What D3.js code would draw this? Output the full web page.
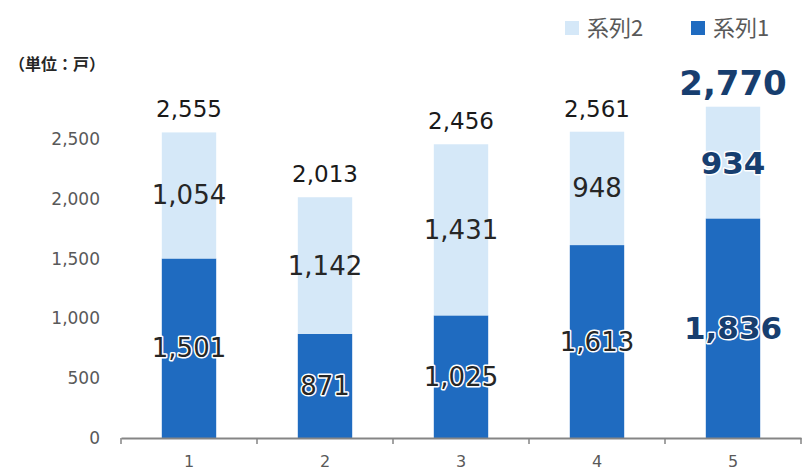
<!DOCTYPE html>
<html>
<head>
<meta charset="utf-8">
<script src="https://cdn.jsdelivr.net/npm/d3@7"></script>
<style>
  html, body { margin: 0; padding: 0; background: #ffffff; }
  svg { display: block; }
</style>
</head>
<body>
<svg id="chart" width="804" height="475"></svg>
<script>
// Categories along the x axis
const categories = ["1", "2", "3", "4", "5"];
// Lower (dark) segment values
const series1 = [1501, 871, 1025, 1613, 1836];
// Upper (light) segment values
const series2 = [1054, 1142, 1431, 948, 934];
// Totals shown above each bar
const totals = [2555, 2013, 2456, 2561, 2770];
// Y axis ticks
const yTicks = [0, 500, 1000, 1500, 2000, 2500];
const seriesNames = ["系列1", "系列2"];
const unitLabel = "（単位：戸）";

const DARK = "#1f6bc0";
const LIGHT = "#d5e8f8";
const NAVY = "#173e6f";
const numFont = "'DejaVu Sans', Verdana, sans-serif";
const cjkFont = "'Noto Sans CJK JP', 'DejaVu Sans', sans-serif";
const fmt = d3.format(",");

const svg = d3.select("#chart");

const x = d3.scaleBand()
  .domain(categories)
  .range([121, 801])
  .paddingInner(0.6)
  .paddingOuter(0.3);

const y = d3.scaleLinear()
  .domain([0, 2500])
  .range([438, 139]);

// stacked layout
const rows = categories.map((c, i) => ({ cat: c, s1: series1[i], s2: series2[i], total: totals[i] }));
const stack = d3.stack().keys(["s1", "s2"]);
const layers = stack(rows);
const colors = { s1: DARK, s2: LIGHT };

// y tick labels (no axis line)
const yAxis = d3.axisLeft(y).tickValues(yTicks).tickFormat(fmt).tickSize(0).tickPadding(0);
const gy = svg.append("g").attr("transform", "translate(100,0)").call(yAxis);
gy.select(".domain").remove();
gy.selectAll("text")
  .attr("fill", "#595959")
  .style("font-family", numFont)
  .style("font-size", "17px");

// bars
layers.forEach(layer => {
  svg.append("g")
    .selectAll("rect")
    .data(layer)
    .join("rect")
    .attr("x", d => x(d.data.cat))
    .attr("width", x.bandwidth())
    .attr("y", d => y(d[1]))
    .attr("height", d => y(d[0]) - y(d[1]))
    .attr("fill", colors[layer.key]);
});

// x axis
const xAxis = d3.axisBottom(x).tickSize(0).tickPadding(18);
const gx = svg.append("g").attr("transform", `translate(0,${y(0)})`).call(xAxis);
gx.select(".domain").attr("stroke", "#858585").attr("stroke-width", 2);
gx.selectAll("text")
  .attr("fill", "#595959")
  .style("font-family", numFont)
  .style("font-size", "16px");
// boundary tick marks between categories
const bounds = categories.map((c, i) => x.range()[0] + i * x.step());
bounds.push(x.range()[1]);
gx.selectAll("line.bound")
  .data(bounds)
  .join("line")
  .attr("class", "bound")
  .attr("x1", d => d).attr("x2", d => d)
  .attr("y1", 0).attr("y2", 6)
  .attr("stroke", "#858585")
  .attr("stroke-width", 1.5);

// segment value labels
const isLast = i => i === categories.length - 1;
layers.forEach(layer => {
  svg.append("g")
    .selectAll("text")
    .data(layer)
    .join("text")
    .attr("x", d => x(d.data.cat) + x.bandwidth() / 2)
    .attr("y", d => (y(d[0]) + y(d[1])) / 2)
    .attr("text-anchor", "middle")
    .attr("dominant-baseline", "central")
    .style("font-family", numFont)
    .style("font-size", (d, i) => isLast(i) ? "31px" : "26px")
    .style("font-weight", (d, i) => isLast(i) ? "bold" : "normal")
    .attr("fill", (d, i) => isLast(i) ? NAVY : "#262626")
    .attr("stroke", "#ffffff")
    .attr("stroke-width", (d, i) => layer.key === "s1" || isLast(i) ? 3 : 0)
    .attr("stroke-linejoin", "round")
    .attr("paint-order", "stroke")
    .text(d => fmt(d[1] - d[0]));
});

// totals above bars
svg.append("g")
  .selectAll("text")
  .data(rows)
  .join("text")
  .attr("x", d => x(d.cat) + x.bandwidth() / 2)
  .attr("y", d => y(d.total) - (d.cat === categories[categories.length - 1] ? 12 : 15))
  .attr("text-anchor", "middle")
  .style("font-family", numFont)
  .style("font-size", (d, i) => isLast(i) ? "34px" : "23px")
  .style("font-weight", (d, i) => isLast(i) ? "bold" : "normal")
  .attr("fill", (d, i) => isLast(i) ? NAVY : "#1a1a1a")
  .text(d => fmt(d.total));

// unit label
svg.append("text")
  .attr("x", 9)
  .attr("y", 63)
  .attr("dominant-baseline", "central")
  .style("font-family", cjkFont)
  .style("font-size", "16px")
  .style("font-weight", "bold")
  .attr("fill", "#262626")
  .text(unitLabel);

// legend
const legendItems = [
  { name: seriesNames[1], color: LIGHT, x: 565 },
  { name: seriesNames[0], color: DARK, x: 691 }
];
const lg = svg.append("g");
legendItems.forEach(it => {
  lg.append("rect")
    .attr("x", it.x).attr("y", 21)
    .attr("width", 14).attr("height", 14)
    .attr("fill", it.color);
  lg.append("text")
    .attr("x", it.x + 22)
    .attr("y", 26)
    .attr("dominant-baseline", "central")
    .style("font-family", cjkFont)
    .style("font-size", "22px")
    .attr("fill", "#595959")
    .text(it.name);
});
</script>
</body>
</html>
